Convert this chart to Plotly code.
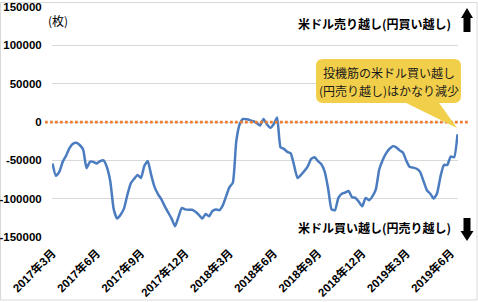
import pandas as pd
import plotly.graph_objects as go

# Weekly CFTC net positions (contracts)
net_position = [
    -54000, -70000, -65000, -52000, -44000, -34000, -28500, -27000, -30000, -36000,
    -60000, -52000, -52000, -54000, -51000, -50000, -59000, -78000, -114000, -126000,
    -121000, -113000, -95000, -80000, -74000, -69000, -73000, -57000, -51000, -69000,
    -85000, -94000, -101000, -110000, -118000, -126000, -136000, -124000, -112000, -114000,
    -114500, -114500, -117000, -121000, -126000, -120000, -123000, -116000, -114000, -115000,
    -109000, -97000, -85000, -79000, -25000, -3000, 4000, 3500, 2500, 1000,
    -1500, -4500, 4000, -3000, -7500, -3000, 6000, -33000, -35000, -39000,
    -41000, -57000, -73000, -69000, -64000, -58000, -48000, -46000, -51000, -55000,
    -65000, -87000, -114000, -115000, -99000, -93500, -92000, -90000, -98000, -99000,
    -104000, -110000, -99000, -102000, -97000, -88000, -62000, -50000, -41000, -35000,
    -31500, -33000, -37000, -40000, -51000, -58800, -59500, -61000, -65000, -77000,
    -89000, -93500, -100000, -93000, -71000, -56000, -56000, -45000, -46000, -16000,
]
dates = pd.date_range("2017-03-07", periods=len(net_position), freq="7D")
tick_labels = ["2017年3月", "2017年6月", "2017年9月", "2017年12月", "2018年3月",
               "2018年6月", "2018年9月", "2018年12月", "2019年3月", "2019年6月"]
tick_dates = list(dates[::13][:len(tick_labels)])
y_ticks = [150000, 100000, 50000, 0, -50000, -100000, -150000]
y_tick_text = ["150000", "100000", "50000", "0", "-50000", "-100000", "-150000"]

W, H = 478, 302
L, R, T, B = 52, 20, 7, 65
PW, PH = W - L - R, H - T - B


def px(x):
    return (x - L) / PW


def py(y):
    return (T + PH - y) / PH


def path_px(points, close=True):
    s = "M " + " L ".join(f"{px(x):.5f},{py(y):.5f}" for x, y in points)
    return s + (" Z" if close else "")


FONT = "Liberation Sans, Arial, Noto Sans CJK JP, sans-serif"
JP = "Noto Sans CJK JP, sans-serif"

fig = go.Figure()
fig.add_trace(go.Scatter(
    x=dates, y=net_position, mode="lines",
    line=dict(color="#4A7CBF", width=2.5, shape="spline", smoothing=0.5),
    showlegend=False, hoverinfo="skip",
))

shapes = []
shapes.append(dict(type="rect", xref="paper", yref="paper",
                   x0=px(0.5), x1=px(477), y0=py(300), y1=py(2.5),
                   line=dict(color="#D9D9D9", width=1), fillcolor="rgba(0,0,0,0)", layer="below"))
shapes.append(dict(type="line", xref="paper", yref="paper",
                   x0=px(45), x1=px(468), y0=0.5, y1=0.5,
                   line=dict(color="#ED7D31", width=2.75, dash="2.75px,2.25px"), layer="above"))
shapes.append(dict(type="path", xref="paper", yref="paper",
                   path=path_px([(400, 100), (437, 100), (457, 128)]),
                   fillcolor="#F2CF4A", line=dict(width=0), layer="above"))
x0, x1, y0, y1, r = 316, 461, 59, 103, 7
rr = (f"M {px(x0 + r):.5f},{py(y0):.5f} L {px(x1 - r):.5f},{py(y0):.5f} "
      f"Q {px(x1):.5f},{py(y0):.5f} {px(x1):.5f},{py(y0 + r):.5f} "
      f"L {px(x1):.5f},{py(y1 - r):.5f} Q {px(x1):.5f},{py(y1):.5f} {px(x1 - r):.5f},{py(y1):.5f} "
      f"L {px(x0 + r):.5f},{py(y1):.5f} Q {px(x0):.5f},{py(y1):.5f} {px(x0):.5f},{py(y1 - r):.5f} "
      f"L {px(x0):.5f},{py(y0 + r):.5f} Q {px(x0):.5f},{py(y0):.5f} {px(x0 + r):.5f},{py(y0):.5f} Z")
shapes.append(dict(type="path", xref="paper", yref="paper", path=rr,
                   fillcolor="#F2CF4A", line=dict(width=0), layer="above"))
shapes.append(dict(type="path", xref="paper", yref="paper",
                   path=path_px([(467, 8), (473, 18), (470.5, 18), (470.5, 32),
                                 (463.5, 32), (463.5, 18), (461, 18)]),
                   fillcolor="#000000", line=dict(width=0), layer="above"))
shapes.append(dict(type="path", xref="paper", yref="paper",
                   path=path_px([(467, 241), (473.5, 231), (470.5, 231), (470.5, 218),
                                 (463.5, 218), (463.5, 231), (460.5, 231)]),
                   fillcolor="#000000", line=dict(width=0), layer="above"))

annotations = [
    dict(text="(枚)", x=px(46), y=py(20), xanchor="left", yanchor="middle",
         font=dict(family=JP, size=12, color="#000000")),
    dict(text="<b>米ドル売り越し(円買い越し)</b>", x=px(453), y=py(23), xanchor="right", yanchor="middle",
         font=dict(family=JP, size=12, color="#000000")),
    dict(text="<b>米ドル買い越し(円売り越し)</b>", x=px(453), y=py(227.5), xanchor="right", yanchor="middle",
         font=dict(family=JP, size=12, color="#000000")),
    dict(text="投機筋の米ドル買い越し", x=px(388.5), y=py(72), xanchor="center", yanchor="middle",
         font=dict(family=JP, size=12, color="#1A1A1A")),
    dict(text="(円売り越し)はかなり減少", x=px(388.5), y=py(90), xanchor="center", yanchor="middle",
         font=dict(family=JP, size=12, color="#1A1A1A")),
]
for a in annotations:
    a.update(xref="paper", yref="paper", showarrow=False)

fig.update_layout(
    width=W, height=H,
    margin=dict(l=L, r=R, t=T, b=B, autoexpand=False),
    paper_bgcolor="white", plot_bgcolor="white",
    shapes=shapes, annotations=annotations,
    xaxis=dict(
        range=[dates[0] - pd.Timedelta(days=1), dates[-1] + pd.Timedelta(days=1)],
        tickvals=tick_dates, ticktext=tick_labels, tickangle=-45,
        tickfont=dict(family=FONT, size=11.5, color="#000000", weight="bold"),
        showgrid=False, zeroline=False, showline=False, automargin=False,
        ticks="outside", ticklen=4, tickcolor="rgba(0,0,0,0)",
    ),
    yaxis=dict(
        range=[-150000, 150000], tickvals=y_ticks, ticktext=y_tick_text,
        tickfont=dict(family=FONT, size=11.5, color="#000000", weight="bold"),
        showgrid=True, gridcolor="#D9D9D9", gridwidth=1, zeroline=False, automargin=False,
        showline=False, ticks="outside", ticklen=7, tickcolor="rgba(0,0,0,0)",
    ),
)

fig.write_html("out.html")
